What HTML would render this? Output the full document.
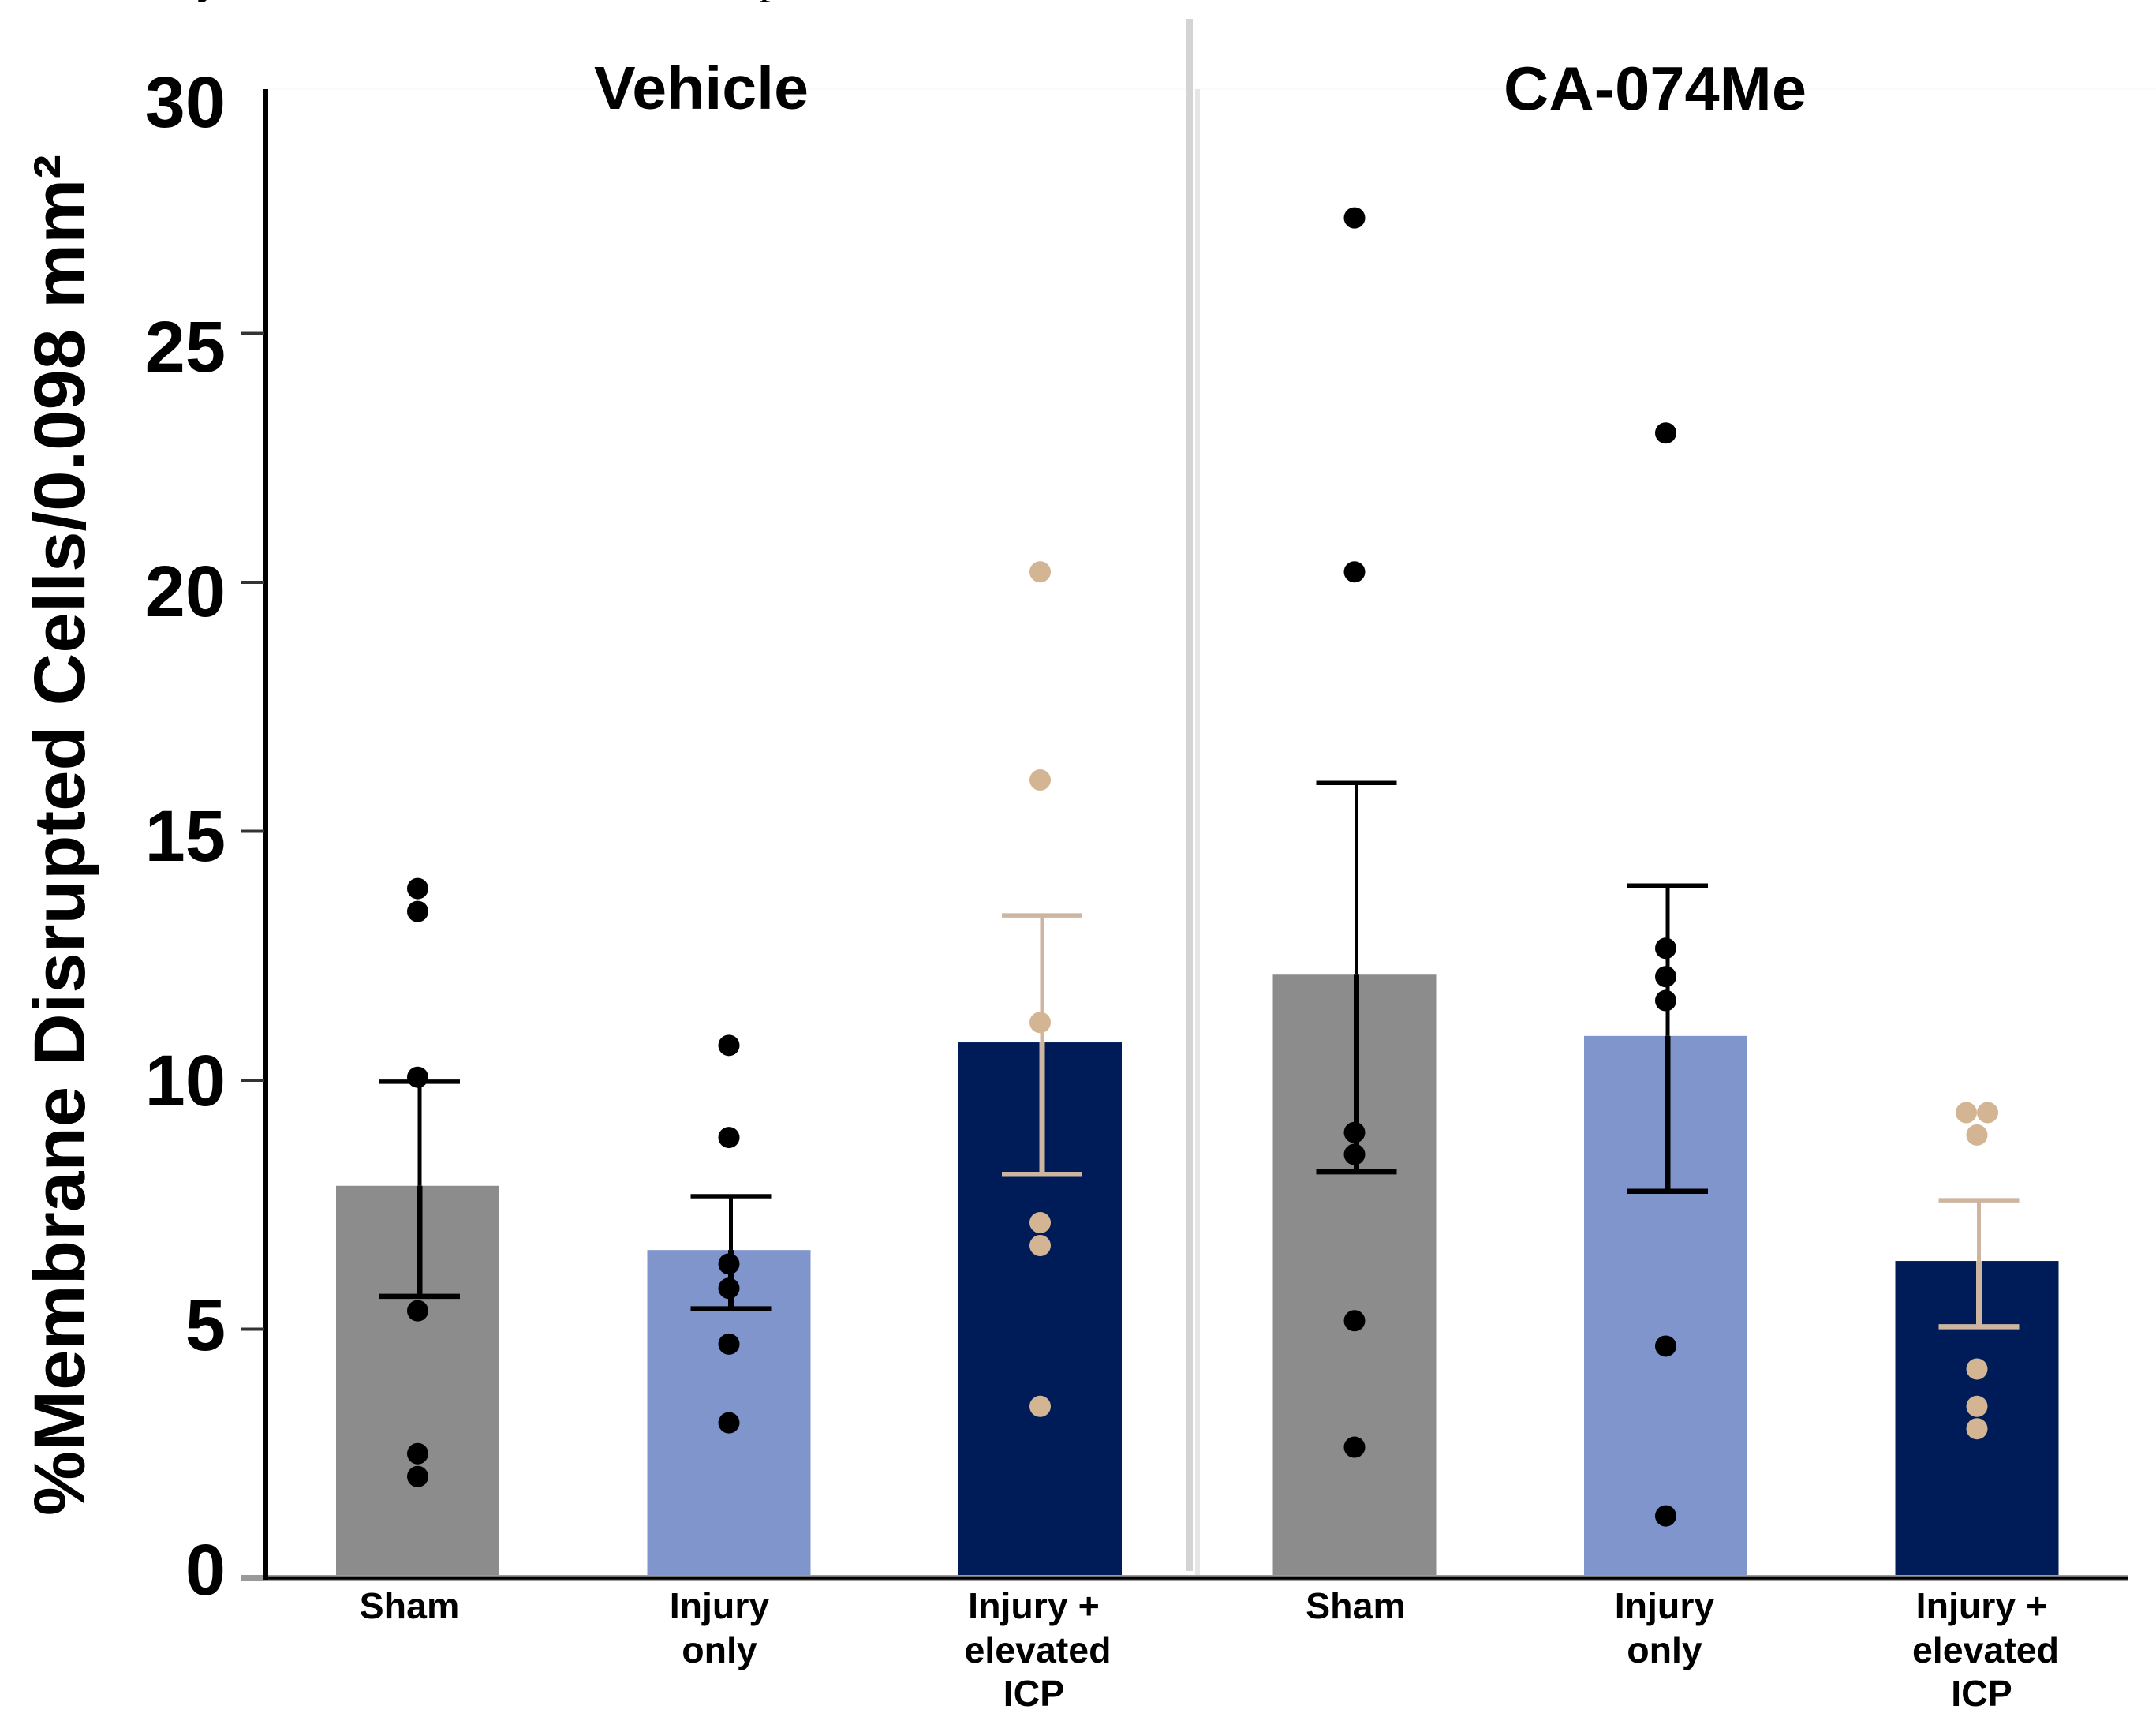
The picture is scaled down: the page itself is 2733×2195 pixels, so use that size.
<!DOCTYPE html>
<html lang="en">
<head>
<meta charset="utf-8">
<title>Membrane disrupted cells chart</title>
<style>
  html, body { margin: 0; padding: 0; background: #fff; }
  svg { display: block; }
  text { font-family: "Liberation Sans", sans-serif; font-weight: bold; fill: #000; }
</style>
</head>
<body>
<svg id="chart" xmlns="http://www.w3.org/2000/svg" width="2733" height="2195" viewBox="0 0 2733 2195">
  <rect x="0" y="0" width="2733" height="2195" fill="#ffffff"/>
  <text x="250" y="-10" style="font-family:'Liberation Serif',serif;font-weight:normal;font-size:60px">y</text>
  <text x="962" y="-10" style="font-family:'Liberation Serif',serif;font-weight:normal;font-size:60px">p</text>
  <line x1="337" y1="113" x2="2733" y2="113" stroke="#fbfbfb" stroke-width="2"/>
  <rect x="1504" y="24" width="8" height="1967" fill="#d4d4d4"/>
  <rect x="1515" y="113" width="6" height="1885" fill="#e6e6e6"/>
  <text x="753" y="138" textLength="272" lengthAdjust="spacingAndGlyphs" style="font-size:77px">Vehicle</text>
  <text x="1906" y="139" textLength="384" lengthAdjust="spacingAndGlyphs" style="font-size:78px">CA-074Me</text>
  <text transform="translate(107,1921) rotate(-90)" textLength="1725" lengthAdjust="spacingAndGlyphs" style="font-size:92px">%Membrane Disrupted Cells/0.098  mm²</text>
  <g id="bars"></g>
  <g id="axes"></g>
  <g id="errors"></g>
  <g id="dots"></g>
  <g id="xlabels"></g>
</svg>
<script>
// ---- chart data ----
const categories = [
  ['Sham'], ['Injury', 'only'], ['Injury +', 'elevated', 'ICP'],
  ['Sham'], ['Injury', 'only'], ['Injury +', 'elevated', 'ICP']
];
const yTickValues = [0, 5, 10, 15, 20, 25];
const yTickLabels = [0, 5, 10, 15, 20, 25, 30];
const barValues = [7.88, 6.59, 10.76, 12.12, 10.89, 6.37];
const errorHigh = [9.97, 7.67, 13.31, 15.97, 13.91, 7.59];
const errorLow = [5.66, 5.41, 8.11, 8.16, 7.77, 5.05];
const pointsVehicleSham = [13.85, 13.39, 10.06, 5.37, 2.50, 2.04];
const pointsVehicleInjury = [10.70, 8.85, 6.31, 5.82, 4.70, 3.12];
const pointsVehicleElevated = [20.21, 16.03, 11.16, 7.14, 6.68, 3.45];
const pointsDrugSham = [27.32, 20.21, 8.95, 8.51, 5.17, 2.63];
const pointsDrugInjury = [23.00, 12.65, 12.08, 11.60, 4.66, 1.25];
const pointsDrugElevated = [9.35, 9.35, 8.90, 4.20, 3.45, 3.00];
const pointSeries = [pointsVehicleSham, pointsVehicleInjury, pointsVehicleElevated, pointsDrugSham, pointsDrugInjury, pointsDrugElevated];

// ---- axis functions ----
const y = v => 2000 - 63.1 * v;
const tickLabelCenterY = v => 1988 - 62 * v;
const xCenter = i => (i < 3 ? 529.5 : 1717) + (i % 3) * 394.5;

const barFill = ['#8c8c8c', '#7f95cc', '#001c58'];
const NS = 'http://www.w3.org/2000/svg';
const isTan = i => i % 3 === 2;

function make(parent, tag, attrs) {
  const el = document.createElementNS(NS, tag);
  for (const k in attrs) el.setAttribute(k, attrs[k]);
  parent.appendChild(el);
  return el;
}

const barsG = document.getElementById('bars');
const axesG = document.getElementById('axes');
const errG = document.getElementById('errors');
const dotsG = document.getElementById('dots');
const xlG = document.getElementById('xlabels');

// bars
barValues.forEach((v, i) => {
  const bar = make(barsG, 'rect', { x: xCenter(i) - 103.5, y: y(v), width: 207, height: y(0) - y(v), fill: barFill[i % 3] });
  
  
});

// axes
const xAxisShade = make(axesG, 'line', { x1: 306, y1: y(0), x2: 2698, y2: y(0), stroke: '#9a9a9a', 'stroke-width': 8 });


const xAxisLine = make(axesG, 'line', { x1: 334, y1: y(0) - 0.3, x2: 2698, y2: y(0) - 0.3, stroke: '#000', 'stroke-width': 4 });


const yAxisLine = make(axesG, 'line', { x1: 337, y1: 113, x2: 337, y2: 2002, stroke: '#000', 'stroke-width': 6 });



yTickValues.forEach(v => {
  if (v === 0) return;
  const tick = make(axesG, 'line', { x1: 306, y1: y(v), x2: 335, y2: y(v), stroke: '#333', 'stroke-width': 4 });
  
  
});
yTickLabels.forEach(v => {
  const label = make(axesG, 'text', { x: 286, y: tickLabelCenterY(v) + 33, 'text-anchor': 'end', style: 'font-size:92px' });
  label.textContent = v;
  
  
});

// error bars
errorHigh.forEach((hi, i) => {
  const color = isTan(i) ? '#cdb5a0' : '#000';
  const cx = xCenter(i) + 2.5;
  const top = y(barValues[i]);
  const stemUpper = make(errG, 'line', { x1: cx, y1: y(hi), x2: cx, y2: Math.min(top, y(errorLow[i])), stroke: color, 'stroke-width': 5 });
  
  
  const stemLower = make(errG, 'line', { x1: cx, y1: top, x2: cx, y2: y(errorLow[i]), stroke: color, 'stroke-width': 7 });
  
  
  const capHigh = make(errG, 'line', { x1: cx - 51, y1: y(hi), x2: cx + 51, y2: y(hi), stroke: color, 'stroke-width': 5.5 });
  
  
  const capLow = make(errG, 'line', { x1: cx - 51, y1: y(errorLow[i]), x2: cx + 51, y2: y(errorLow[i]), stroke: color, 'stroke-width': 6.5 });
  
  
});

// data points (tied values are spread side by side)
pointSeries.forEach((series, i) => {
  series.forEach((v, j) => {
    const ties = series.filter(o => o === v).length;
    const order = series.slice(0, j).filter(o => o === v).length;
    const spread = ties > 1 ? (order - (ties - 1) / 2) * 27 : 0;
    const dot = make(dotsG, 'circle', { cx: xCenter(i) + spread, cy: y(v), r: 13.5, fill: isTan(i) ? '#d3b593' : '#000' });
    
    
  });
});

// category labels
const labelBaselines = [2051, 2107, 2162];
const labelNudge = [-10.5, -12, -8, 1.5, -1.5, 6];
categories.forEach((lines, i) => {
  lines.forEach((line, j) => {
    const extra = lines.length === 3 && j === 1 ? 5 : 0;
    const label = make(xlG, 'text', { x: xCenter(i) + labelNudge[i] + extra, y: labelBaselines[j], 'text-anchor': 'middle', style: 'font-size:46.5px' });
    label.textContent = line;
    
    
  });
});
</script>
</body>
</html>
